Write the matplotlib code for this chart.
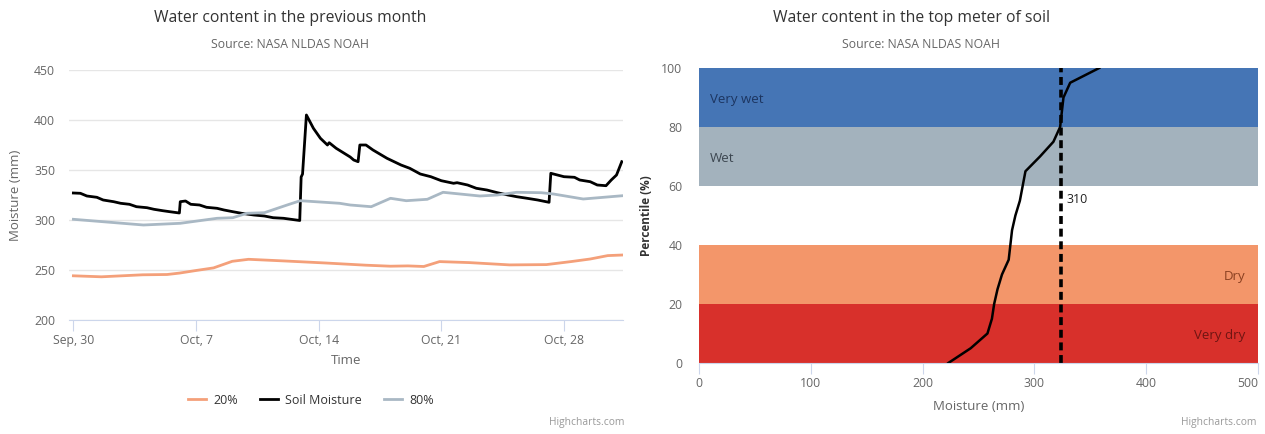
import numpy as np
import matplotlib
matplotlib.use("Agg")
import matplotlib.pyplot as plt

plt.rcParams['font.family'] = ['Open Sans', 'DejaVu Sans']

# left chart: days after Sep 30
soil_day = [0, 0.4, 0.77, 1.34, 1.7, 2.3, 2.7, 3.2, 3.6, 4.2, 4.6, 5.1, 5.5, 6.05,
            6.1, 6.4, 6.7, 7.2, 7.6, 8.2, 8.6, 9.1, 9.6, 10.3, 10.9, 11.4, 12.0, 12.92,
            13.0, 13.08, 13.3, 13.7, 14.1, 14.5, 14.6, 15.0, 15.8, 16.0, 16.25,
            16.35, 16.7, 17.1, 17.9, 18.7, 19.2, 19.8, 20.4, 21.0, 21.7, 21.9, 22.5,
            23.0, 23.6, 24.2, 24.8, 25.3, 25.9, 26.5, 27.15,
            27.25, 28.0, 28.6, 28.9, 29.5, 29.9, 30.4, 30.7, 31.0, 31.3]
soil_val = [327, 326.7, 324, 322.7, 320, 318.3, 316.7, 315.7, 313.3, 312.3, 310.7, 309.3, 308.3, 307,
            318.3, 319, 315.7, 315, 312.7, 311.7, 310, 308.3, 306.7, 305, 304, 302.3, 301.7, 299.5,
            343, 346, 405, 391.7, 381.7, 375, 377.3, 371.7, 363, 360, 358.3,
            375, 375, 370, 361.7, 355, 351.7, 346, 343.3, 339.3, 336.7, 337.3, 335,
            331.7, 330, 327.3, 325, 323.3, 321.7, 320, 317.7,
            346.7, 343.3, 342.7, 340, 338.3, 335, 334.3, 340, 345, 358.3]

p20_day = [0, 1.6, 3.95, 5.35, 6.05, 7, 8, 9.07, 10, 12.1, 14.4, 16.7, 18.1, 19.1,
           20, 20.9, 22.6, 24.9, 27, 28.4, 29.5, 30.5, 31.35]
p20_val = [244.2, 243.2, 245.2, 245.5, 246.9, 249.5, 252.1, 258.7, 260.7, 259, 257, 254.8, 253.8, 254.1,
           253.5, 258.4, 257.4, 255.1, 255.4, 258.4, 261, 264.4, 265]

p80_day = [0, 4.0, 6.1, 8.2, 9.1, 9.9, 10.9, 12.2, 12.95, 15.2, 15.8, 17.0, 18.1, 19.0,
           20.2, 21.1, 23.2, 24.2, 25.3, 26.7, 27.4, 29.1, 31.35]
p80_val = [300.7, 295, 296.7, 301.7, 302.3, 306.7, 307.3, 315, 319.3, 316.7, 315, 313.3, 321.7, 319.3,
           320.7, 327.7, 324, 325, 327.7, 327.3, 326, 321, 324.3]

tick_days = [0, 7, 14, 21, 28]
tick_labels = ["Sep, 30", "Oct, 7", "Oct, 14", "Oct, 21", "Oct, 28"]

# right chart
curve_mm = [223, 243, 258, 262, 264, 267, 271, 277, 280, 283, 287, 292, 305, 317, 323, 326, 332, 358]
curve_pct = [0, 5, 10, 15, 20, 25, 30, 35, 45, 50, 55, 65, 70, 75, 80, 90, 95, 100]
current_mm = 324
current_label = "310"

band_names = ["Very dry", "Dry", "Wet", "Very wet"]
band_lo = [0, 20, 60, 80]
band_hi = [20, 40, 80, 100]
band_colors = ["#d8302b", "#f3966a", "#a3b2bd", "#4575b5"]
band_text = ["#6e1512", "#8a4021", "#3c4650", "#1c3560"]

fig = plt.figure(figsize=(12.65, 4.34), dpi=100)
W, H = 1265, 434

def box(x0, y0, x1, y1):
    return [x0 / W, 1 - y1 / H, (x1 - x0) / W, (y1 - y0) / H]

grey_txt = "#666666"
axis_col = "#ccd6eb"

# ---- left chart
ax = fig.add_axes(box(69, 70, 623, 320))
ax.plot(p20_day, p20_val, color="#f4a07a", lw=2, label="20%")
ax.plot(soil_day, soil_val, color="black", lw=2, label="Soil Moisture")
ax.plot(p80_day, p80_val, color="#a9b8c4", lw=2, label="80%")
ax.set_xlim(-0.25, 31.37)
ax.set_ylim(200, 450)
ax.set_yticks(range(200, 451, 50))
ax.grid(axis="y", color="#e6e6e6", lw=1)
ax.set_axisbelow(True)
ax.set_xticks(tick_days)
ax.set_xticklabels(tick_labels)
for s in ["top", "right", "left"]:
    ax.spines[s].set_visible(False)
ax.spines["bottom"].set_color(axis_col)
ax.tick_params(axis="x", colors=axis_col, length=8, labelcolor=grey_txt, labelsize=8.8, pad=2)
ax.tick_params(axis="y", length=0, labelcolor=grey_txt, labelsize=8.8, pad=10)
ax.set_xlabel("Time", color=grey_txt, fontsize=9.5, labelpad=5)
ax.set_ylabel("Moisture (mm)", color=grey_txt, fontsize=9.5, labelpad=9)
leg = ax.legend(loc="center", bbox_to_anchor=((311 - 69) / 554, -0.32), ncol=3, frameon=False,
                fontsize=9, handlelength=1.4, columnspacing=1.8, handletextpad=0.6)
for t in leg.get_texts():
    t.set_color("#333333")

fig.text(290 / W, 1 - 18 / H, "Water content in the previous month", ha="center", va="center",
         fontsize=11.3, color="#333333")
fig.text(290 / W, 1 - 44 / H, "Source: NASA NLDAS NOAH", ha="center", va="center",
         fontsize=8.8, color=grey_txt)
fig.text(625 / W, 1 - 423 / H, "Highcharts.com", ha="right", va="center", fontsize=7.4, color="#999999")

# ---- right chart
bx = fig.add_axes(box(699, 68, 1258, 363))
for name, lo, hi, c, tc in zip(band_names, band_lo, band_hi, band_colors, band_text):
    bx.axhspan(lo, hi, color=c, lw=0)
    mid = (lo + hi) / 2 - 0.8
    if lo >= 60:
        bx.text(10, mid, name, ha="left", va="center", fontsize=9.5, color=tc)
    else:
        bx.text(489, mid, name, ha="right", va="center", fontsize=9.5, color=tc)
bx.plot(curve_mm, curve_pct, color="black", lw=1.8)
bx.axvline(current_mm, color="black", lw=2.6, ls=(0, (2.2, 1.3)))
bx.text(current_mm + 5, 55.3, current_label, ha="left", va="center", fontsize=9, color="#222222")
bx.set_xlim(0, 500)
bx.set_ylim(0, 100)
bx.set_xticks(range(0, 501, 100))
bx.set_yticks(range(0, 101, 20))
for s in ["top", "right", "left"]:
    bx.spines[s].set_visible(False)
bx.spines["bottom"].set_color(axis_col)
bx.tick_params(axis="x", colors=axis_col, length=8, labelcolor=grey_txt, labelsize=8.8, pad=2)
bx.tick_params(axis="y", length=0, labelcolor=grey_txt, labelsize=8.8, pad=12)
bx.get_xticklabels()[-1].set_horizontalalignment("right")
bx.set_xlabel("Moisture (mm)", color=grey_txt, fontsize=9.5, labelpad=7)
bx.set_ylabel("Percentile (%)", color="#333333", fontsize=8.5, fontweight="bold", labelpad=6)

fig.text(912 / W, 1 - 18 / H, "Water content in the top meter of soil", ha="center", va="center",
         fontsize=11.3, color="#333333")
fig.text(921 / W, 1 - 44 / H, "Source: NASA NLDAS NOAH", ha="center", va="center",
         fontsize=8.8, color=grey_txt)
fig.text(1257 / W, 1 - 423 / H, "Highcharts.com", ha="right", va="center", fontsize=7.4, color="#999999")

fig.savefig("out.png", dpi=100, facecolor="white")
